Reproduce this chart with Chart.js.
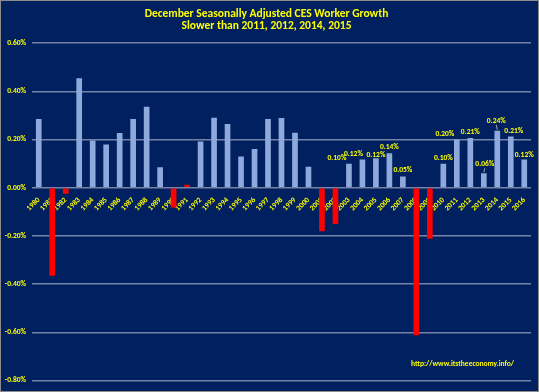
<!DOCTYPE html>
<html>
<head>
<meta charset="utf-8">
<script src="https://cdn.jsdelivr.net/npm/chart.js@4.4.1/dist/chart.umd.min.js"></script>
<style>
  html, body { margin: 0; padding: 0; background: #ffffff; }
  #wrap {
    width: 539px; height: 392px; box-sizing: border-box;
    border: 1px solid #8c8c8c; background: #002060;
  }
  #wrap canvas { display: block; }
</style>
</head>
<body>
<div id="wrap"><canvas id="cesChart" width="537" height="390"></canvas></div>
<script>
/* ── data ── */
const years = [
  '1980', '1981', '1982', '1983', '1984', '1985', '1986', '1987', '1988', '1989',
  '1990', '1991', '1992', '1993', '1994', '1995', '1996', '1997', '1998', '1999',
  '2000', '2001', '2002', '2003', '2004', '2005', '2006', '2007', '2008', '2009',
  '2010', '2011', '2012', '2013', '2014', '2015', '2016',
];
// December seasonally adjusted CES worker growth, percent
const growth = [
  0.285, -0.365, -0.025, 0.454, 0.196, 0.179, 0.227, 0.285, 0.336, 0.085,
  -0.082, 0.012, 0.192, 0.290, 0.264, 0.130, 0.161, 0.285, 0.289, 0.228,
  0.087, -0.181, -0.151, 0.100, 0.117, 0.122, 0.143, 0.047, -0.612, -0.212,
  0.099, 0.200, 0.206, 0.060, 0.236, 0.213, 0.117,
];
// years drawn in red
const redYears = ['1981', '1982', '1990', '1991', '2001', '2002', '2008', '2009'];
// value labels shown above bars (2003 onward)
const valueLabels = {
  '2003': '0.10%', '2004': '0.12%', '2005': '0.12%', '2006': '0.14%', '2007': '0.05%',
  '2010': '0.10%', '2011': '0.20%', '2012': '0.21%', '2013': '0.06%', '2014': '0.24%',
  '2015': '0.21%', '2016': '0.12%',
};
const yTicks = [0.6, 0.4, 0.2, 0, -0.2, -0.4, -0.6, -0.8];
const titleLines = ['December Seasonally Adjusted CES Worker Growth', 'Slower than 2011, 2012, 2014, 2015'];
const sourceUrl = 'http://www.itstheeconomy.info/';

/* ── style ── */
const FONT   = "Carlito, 'Liberation Sans Narrow', 'DejaVu Sans Condensed', sans-serif";
const YELLOW = '#ffff00';
const BLUE   = '#8eaadc';
const RED    = '#ff0000';
const GRID   = '#7584a6';

// hand-moved labels, as in the original (px)
const labelNudge = {
  '2003': [-12, 0], '2004': [-9, 1], '2005': [0, 3], '2011': [-12, 1],
  '2013': [1, -3], '2014': [-1, -4], '2015': [3, 1], '2016': [0, 2],
};
const leaderYears = ['2013', '2014'];

const barLabels = {
  id: 'barLabels',
  afterDatasetsDraw(chart) {
    const { ctx, chartArea } = chart;
    const meta = chart.getDatasetMeta(0);
    ctx.save();
    ctx.font = `bold 7.5px ${FONT}`;
    ctx.fillStyle = YELLOW;
    ctx.textAlign = 'center';
    ctx.textBaseline = 'middle';
    years.forEach((yr, i) => {
      const txt = valueLabels[yr];
      if (!txt) return;
      const bar = meta.data[i];
      const [dx, dy] = labelNudge[yr] || [0, 0];
      const lx = bar.x + dx;
      const ly = bar.y - 6 + dy;
      ctx.fillText(txt, lx, ly);
      if (leaderYears.includes(yr)) {
        ctx.strokeStyle = '#c8c8c8';
        ctx.lineWidth = 0.8;
        ctx.beginPath();
        ctx.moveTo(lx, ly + 4);
        ctx.lineTo(bar.x, bar.y - 1);
        ctx.stroke();
      }
    });
    // source url
    ctx.font = `bold 7.5px ${FONT}`;
    ctx.textAlign = 'right';
    ctx.fillText(sourceUrl, chartArea.right - 17, chartArea.bottom - 16);
    ctx.restore();
  },
};

new Chart(document.getElementById('cesChart'), {
  type: 'bar',
  data: {
    labels: years,
    datasets: [{
      data:            growth,
      backgroundColor: years.map((y) => redYears.includes(y) ? RED : BLUE),
      borderWidth:     0,
      barPercentage:   0.42,
      categoryPercentage: 1,
    }],
  },
  options: {
    responsive: false,
    animation:  false,
    layout: { padding: { left: 1, right: 7, top: 0, bottom: 8 } },
    plugins: {
      legend:  { display: false },
      tooltip: { enabled: false },
      title: {
        display: true,
        text:    titleLines,
        color:   YELLOW,
        font:    { family: FONT, size: 11.5, weight: 'bold', lineHeight: 1.05 },
        padding: { top: 7, bottom: 11 },
      },
    },
    scales: {
      x: {
        position: { y: 0 },
        grid:   { display: false },
        border: { display: false },
        ticks: {
          color: YELLOW,
          font:  { family: FONT, size: 7.5, weight: 'bold' },
          minRotation: 45,
          maxRotation: 45,
          autoSkip: false,
          padding: 0,
        },
      },
      y: {
        min: -0.8,
        max: 0.6,
        afterFit: (s) => { s.width = 30; },
        afterBuildTicks: (s) => { s.ticks = yTicks.map((v) => ({ value: v })); },
        grid:   { color: GRID, lineWidth: 1.5, drawTicks: false },
        border: { display: false },
        ticks: {
          color:   YELLOW,
          font:    { family: FONT, size: 7.5, weight: 'bold' },
          padding: 6,
          callback: (v) => v.toFixed(2) + '%',
        },
      },
    },
  },
  plugins: [barLabels],
});
</script>
</body>
</html>
